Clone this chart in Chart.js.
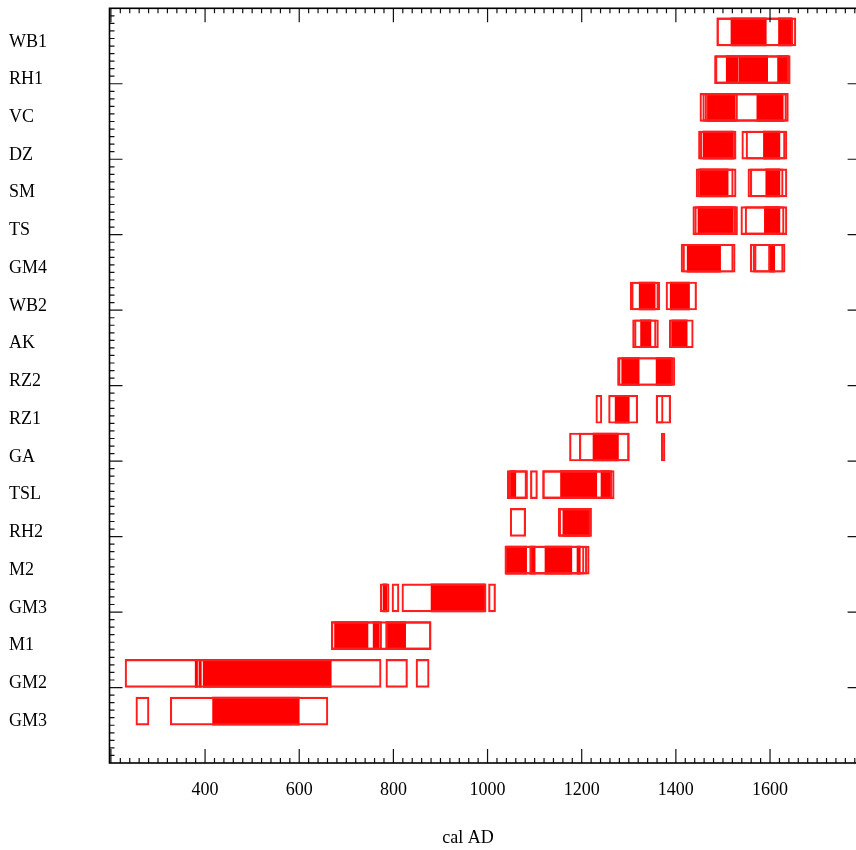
<!DOCTYPE html>
<html>
<head>
<meta charset="utf-8">
<title>cal AD</title>
<script src="https://cdn.jsdelivr.net/npm/chart.js"></script>
<style>
  html, body { margin: 0; padding: 0; background: #fff; overflow: hidden; }
  #wrap { width: 900px; height: 850px; }
</style>
</head>
<body>
<div id="wrap"><canvas id="chart" width="900" height="850"></canvas></div>
<script>
const sites = ['WB1', 'RH1', 'VC', 'DZ', 'SM', 'TS', 'GM4', 'WB2', 'AK', 'RZ2',
               'RZ1', 'GA', 'TSL', 'RH2', 'M2', 'GM3', 'M1', 'GM2', 'GM3'];

// open boxes, cal AD ranges, one list per site (top to bottom)
const outlineRanges = [
  [[1487, 1655], [1487, 1649]],
  [[1482, 1643], [1484, 1640]],
  [[1451, 1639], [1457, 1635], [1462, 1531]],
  [[1448, 1528], [1452, 1526], [1540, 1636], [1549, 1632]],
  [[1443, 1528], [1447, 1522], [1553, 1636], [1558, 1628]],
  [[1436, 1531], [1440, 1527], [1538, 1636], [1547, 1630]],
  [[1411, 1526], [1415, 1522], [1558, 1632], [1564, 1628], [1567, 1600]],
  [[1303, 1366], [1306, 1363], [1379, 1444]],
  [[1308, 1363], [1312, 1358], [1386, 1437]],
  [[1276, 1398], [1278, 1394]],
  [[1230, 1243], [1257, 1319], [1358, 1389], [1358, 1373]],
  [[1174, 1301], [1195, 1301], [1369, 1377]],
  [[1042, 1085], [1046, 1083], [1091, 1106], [1117, 1269], [1117, 1264]],
  [[1048, 1081], [1150, 1221], [1152, 1219]],
  [[1037, 1216], [1037, 1211], [1090, 1205]],
  [[772, 791], [797, 812], [818, 997], [1002, 1017]],
  [[668, 775], [668, 880], [784, 880]],
  [[230, 774], [784, 830], [848, 876]],
  [[253, 281], [326, 661]]
];

// filled ranges
const solidRanges = [
  [[1517, 1592], [1618, 1646]],
  [[1507, 1532], [1534, 1595], [1616, 1639]],
  [[1467, 1526], [1572, 1628]],
  [[1458, 1522], [1586, 1621]],
  [[1451, 1511], [1591, 1621]],
  [[1447, 1522], [1588, 1621]],
  [[1424, 1495], [1600, 1610]],
  [[1322, 1356], [1388, 1429]],
  [[1325, 1347], [1391, 1424]],
  [[1285, 1322], [1358, 1391]],
  [[1271, 1301]],
  [[1224, 1278]],
  [[1050, 1060], [1155, 1232], [1241, 1260]],
  [[1160, 1216]],
  [[1039, 1083], [1090, 1101], [1122, 1179], [1190, 1197]],
  [[778, 786], [880, 995]],
  [[675, 746], [757, 770], [784, 826]],
  [[379, 384], [387, 392], [396, 668]],
  [[416, 600]]
];

const xTicks = [400, 600, 800, 1000, 1200, 1400, 1600];

function toBars(ranges) {
  const out = [];
  ranges.forEach((row, i) => {
    row.forEach(r => out.push({ x: r, y: i + 0.625 }));
  });
  return out;
}

const serif = { family: '"Liberation Serif", "DejaVu Serif", serif', size: 18 };

// box round the plot with inward ticks, and the x title
const framePlugin = {
  id: 'frame',
  afterDraw(chart) {
    const { ctx, chartArea: a, scales: { x, y } } = chart;
    ctx.save();
    ctx.strokeStyle = '#111';
    ctx.lineWidth = 1.2;
    ctx.beginPath();
    for (let v = 200; v <= 1800; v += 20) {
      const px = x.getPixelForValue(v);
      if (px < a.left || px > a.right) continue;
      const len = v % 200 === 0 ? 14 : 5;
      ctx.moveTo(px, a.bottom); ctx.lineTo(px, a.bottom - len);
      ctx.moveTo(px, a.top); ctx.lineTo(px, a.top + len);
    }
    for (let k = 1; k < 100; k++) {
      const py = y.getPixelForValue(k * 0.2);
      const major = k % 10 === 0;
      ctx.moveTo(a.left, py); ctx.lineTo(a.left + (major ? 13 : 5), py);
      if (major) { ctx.moveTo(a.right, py); ctx.lineTo(a.right - 18, py); }
    }
    ctx.stroke();
    ctx.lineWidth = 1.6;
    ctx.strokeStyle = '#000';
    ctx.strokeRect(a.left, a.top, a.right - a.left, a.bottom - a.top);
    ctx.fillStyle = '#000';
    ctx.font = '18px "Liberation Serif"';
    ctx.textAlign = 'center';
    ctx.textBaseline = 'middle';
    ctx.fillText('cal AD', 468, 838);
    ctx.restore();
  }
};

new Chart(document.getElementById('chart'), {
  type: 'bar',
  data: {
    datasets: [
      {
        label: 'range',
        data: toBars(outlineRanges),
        backgroundColor: 'rgba(0,0,0,0)',
        borderColor: 'rgb(255,30,30)',
        borderWidth: 1.5,
        borderSkipped: false,
        grouped: false,
        barThickness: 28
      },
      {
        label: 'solid',
        data: toBars(solidRanges),
        backgroundColor: 'rgb(255,0,0)',
        borderWidth: 0,
        borderSkipped: false,
        grouped: false,
        barThickness: 28
      }
    ]
  },
  options: {
    indexAxis: 'y',
    responsive: false,
    animation: false,
    events: [],
    layout: { padding: { left: 9, top: 8.3, right: 34.4, bottom: 0 } },
    scales: {
      x: {
        type: 'linear',
        min: 197,
        max: 1803,
        offset: false,
        grid: { display: false, drawTicks: false },
        border: { display: false },
        ticks: {
          padding: 16,
          color: '#000',
          font: serif,
          autoSkip: false,
          maxRotation: 0,
          callback: v => String(v)
        },
        afterBuildTicks: s => { s.ticks = xTicks.map(v => ({ value: v })); },
        afterFit: s => { s.height = 87; s.paddingLeft = 0; s.paddingRight = 0; }
      },
      y: {
        type: 'linear',
        min: 0,
        max: 20,
        reverse: true,
        offset: false,
        grid: { display: false, drawTicks: false },
        border: { display: false },
        ticks: {
          autoSkip: false,
          crossAlign: 'far',
          padding: 0,
          color: '#000',
          font: serif,
          callback: (v, i) => sites[i]
        },
        afterBuildTicks: s => { s.ticks = sites.map((n, i) => ({ value: i + 0.888 })); },
        afterFit: s => { s.width = 100.5; s.paddingTop = 0; s.paddingBottom = 0; }
      }
    },
    plugins: {
      legend: { display: false },
      tooltip: { enabled: false }
    }
  },
  plugins: [framePlugin]
});
</script>
</body>
</html>
